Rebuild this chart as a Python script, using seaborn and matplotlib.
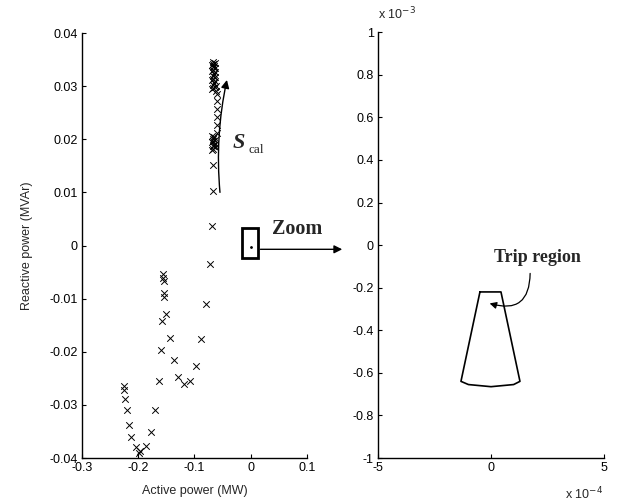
import numpy as np
import pandas as pd
import matplotlib
matplotlib.use("Agg")
import matplotlib.pyplot as plt
import seaborn as sns
from matplotlib.patches import Rectangle

sns.set_style("ticks")
plt.rcParams['font.family'] = ['Liberation Sans', 'DejaVu Sans']

# ---- data: operating points (MW, MVAr) ----
p_mw = [
    -0.073, -0.155, -0.155, -0.154, -0.154, -0.154, -0.079, -0.150, -0.158,
    -0.143, -0.0875, -0.159, -0.137, -0.097, -0.129, -0.163, -0.118, -0.107,
    -0.225, -0.225, -0.223, -0.220, -0.170, -0.216, -0.212, -0.177, -0.204,
    -0.186, -0.196, -0.199,
    -0.068, -0.067, -0.067,
    # middle cluster
    -0.068, -0.066, -0.064, -0.067, -0.065, -0.063, -0.068, -0.066, -0.064,
    -0.067, -0.065, -0.068,
    # column of single points
    -0.059, -0.059, -0.059, -0.059, -0.059, -0.060, -0.061,
    # top cluster
    -0.068, -0.066, -0.064, -0.062, -0.067, -0.065, -0.063, -0.068, -0.066,
    -0.064, -0.067, -0.065, -0.063, -0.068, -0.066, -0.064, -0.067, -0.065,
    -0.068, -0.066, -0.064, -0.067,
]
q_mvar = [
    -0.0035, -0.0054, -0.0061, -0.0066, -0.0089, -0.0096, -0.0110, -0.0129, -0.0142,
    -0.0174, -0.0175, -0.0196, -0.0216, -0.0227, -0.0248, -0.0255, -0.0261, -0.0255,
    -0.0265, -0.0271, -0.0289, -0.0310, -0.0310, -0.0337, -0.0361, -0.0351, -0.0380,
    -0.0378, -0.0386, -0.0390,
    0.0037, 0.0103, 0.0152,
    0.0180, 0.0182, 0.0185, 0.0188, 0.0190, 0.0192, 0.0195, 0.0197, 0.0199,
    0.0201, 0.0204, 0.0207,
    0.0212, 0.0227, 0.0242, 0.0257, 0.0272, 0.0285, 0.0292,
    0.0295, 0.0297, 0.0299, 0.0301, 0.0303, 0.0306, 0.0309, 0.0311, 0.0314,
    0.0317, 0.0320, 0.0323, 0.0326, 0.0328, 0.0331, 0.0334, 0.0336, 0.0338,
    0.0340, 0.0342, 0.0344, 0.0346,
]

# ---- data: trip region boundary (zoomed, in MW / MVAr) ----
trip_p = [-0.49e-4, 0.44e-4, 1.28e-4, 1.0e-4, 0.0, -1.0e-4, -1.33e-4, -0.49e-4]
trip_q = [-0.22e-3, -0.22e-3, -0.64e-3, -0.655e-3, -0.665e-3, -0.655e-3, -0.64e-3, -0.22e-3]

left_xticks = [-0.3, -0.2, -0.1, 0, 0.1]
left_xlabels = ["-0.3", "-0.2", "-0.1", "0", "0.1"]
left_yticks = [0.04, 0.03, 0.02, 0.01, 0, -0.01, -0.02, -0.03, -0.04]
left_ylabels = ["0.04", "0.03", "0.02", "0.01", "0", "-0.01", "-0.02", "-0.03", "-0.04"]
right_xticks = [-5e-4, 0, 5e-4]
right_xlabels = ["-5", "0", "5"]
right_yticks = [1e-3, 0.8e-3, 0.6e-3, 0.4e-3, 0.2e-3, 0, -0.2e-3, -0.4e-3, -0.6e-3, -0.8e-3, -1e-3]
right_ylabels = ["1", "0.8", "0.6", "0.4", "0.2", "0", "-0.2", "-0.4", "-0.6", "-0.8", "-1"]

fig = plt.figure(figsize=(6.21, 5.01), dpi=100)
ax1 = fig.add_axes([0.132, 0.0858, 0.362, 0.848])
ax2 = fig.add_axes([0.6087, 0.0858, 0.364, 0.850])

df = pd.DataFrame({"P": p_mw, "Q": q_mvar})
sns.scatterplot(data=df, x="P", y="Q", marker="x", color="black", s=22,
                linewidth=0.7, ax=ax1, legend=False)
ax1.set_xlim(-0.3, 0.1)
ax1.set_ylim(-0.04, 0.04)
ax1.set_xticks(left_xticks, left_xlabels)
ax1.set_yticks(left_yticks, left_ylabels)
ax1.set_xlabel("Active power (MW)", fontsize=9, labelpad=8)
ax1.set_ylabel("Reactive power (MVAr)", fontsize=9, labelpad=12)

tdf = pd.DataFrame({"P": trip_p, "Q": trip_q})
sns.lineplot(data=tdf, x="P", y="Q", sort=False, color="black", linewidth=1.2,
             ax=ax2, estimator=None)
ax2.set_xlim(-5e-4, 5e-4)
ax2.set_ylim(-1e-3, 1e-3)
ax2.set_xticks(right_xticks, right_xlabels)
ax2.set_yticks(right_yticks, right_ylabels)
ax2.set_xlabel("")
ax2.set_ylabel("")

for ax in (ax1, ax2):
    sns.despine(ax=ax)
    ax.tick_params(direction="in", length=3, width=0.8, labelsize=9, colors="black", pad=3)
    for s in ("left", "bottom"):
        ax.spines[s].set_linewidth(1.0)
        ax.spines[s].set_color("black")

# exponent labels
fig.text(378 / 621, 1 - 14 / 501, r"x 10$^{-3}$", fontsize=9, ha="left", va="center")
fig.text(565 / 621, 1 - 494 / 501, r"x 10$^{-4}$", fontsize=9, ha="left", va="center")

# zoom box
ax1.add_patch(Rectangle((-0.016, -0.0024), 0.0285, 0.0057, fill=False,
                        edgecolor="black", linewidth=2.0))
ax1.plot([0.0], [-0.0002], marker=".", color="black", markersize=2)
ax1.annotate("", xy=(0.168, -0.0007), xytext=(0.0125, -0.0007),
             arrowprops=dict(arrowstyle="-|>", color="black", lw=1.0,
                             mutation_scale=12),
             annotation_clip=False)
ax1.text(0.0835, 0.0031, "Zoom", fontsize=14.5, fontweight="bold",
         family="Liberation Serif", ha="center", va="center")

# S_cal arrow
ax1.annotate("", xy=(-0.041, 0.0317), xytext=(-0.054, 0.0095),
             arrowprops=dict(arrowstyle="-|>", color="black", lw=1.0,
                             mutation_scale=12, connectionstyle="arc3,rad=-0.08"))
ax1.text(-0.0315, 0.0193, "S", fontsize=16, fontweight="bold", fontstyle="italic",
         family="Liberation Serif", ha="left", va="center")
ax1.text(-0.0040, 0.0180, "cal", fontsize=9.5, family="Liberation Serif",
         ha="left", va="center")

# Trip region label & arrow
ax2.text(2.04e-4, -0.06e-3, "Trip region", fontsize=13, fontweight="bold",
         family="Liberation Serif", ha="center", va="center")
ax2.annotate("", xy=(-0.18e-4, -0.27e-3), xytext=(1.73e-4, -0.12e-3),
             arrowprops=dict(arrowstyle="-|>", color="black", lw=0.9,
                             mutation_scale=10, connectionstyle="arc3,rad=-0.7"))

fig.savefig("out.png", dpi=100)
